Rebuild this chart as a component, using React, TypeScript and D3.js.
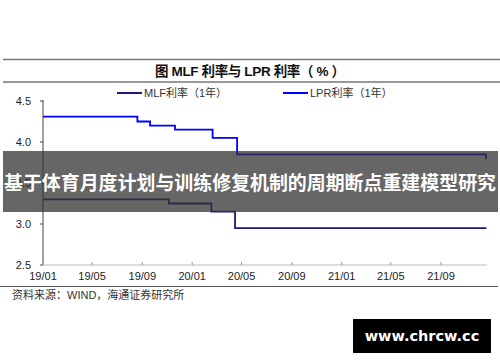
import * as d3 from 'd3';
import React, { useEffect, useRef } from 'react';

// step series (dates where the rate changed)
const lprDates = ['2019-01-01', '2019-08-20', '2019-09-20', '2019-11-20', '2020-02-20', '2020-04-20', '2021-12-20', '2021-12-21'];
const lprValues = [4.31, 4.25, 4.20, 4.15, 4.05, 3.85, 3.80, 3.80];
const mlfDates = ['2019-01-01', '2019-11-05', '2020-02-17', '2020-04-15', '2021-12-21'];
const mlfValues = [3.30, 3.25, 3.15, 2.95, 2.95];
const xTickLabels = ['19/01', '19/05', '19/09', '20/01', '20/05', '20/09', '21/01', '21/05', '21/09'];
const yTicks = [2.5, 3.0, 3.5, 4.0, 4.5];
const seriesNames = ['MLF利率（1年）', 'LPR利率（1年）'];

const W = 500, H = 362;
const FONT = '"Liberation Sans", Arial, "Noto Sans CJK SC", sans-serif';

export default function App() {
    const svgRef = useRef(null);

    useEffect(() => {
        const svg = d3.select(svgRef.current);
        svg.selectAll('*').remove();
        const parse = d3.timeParse('%Y-%m-%d');
        const parseTick = d3.timeParse('%y/%m');

        const x = d3.scaleTime()
            .domain([parse('2019-01-01'), parse('2021-09-01')])
            .range([43, 441]);
        const y = d3.scaleLinear().domain([2.5, 4.5]).range([265, 101]);

        svg.append('rect').attr('width', W).attr('height', H).attr('fill', '#fff');

        // title rules + title
        svg.append('line').attr('x1', 3).attr('x2', 500).attr('y1', 59.5).attr('y2', 59.5)
            .attr('stroke', '#777').attr('stroke-width', 1.5);
        svg.append('line').attr('x1', 3).attr('x2', 500).attr('y1', 82).attr('y2', 82)
            .attr('stroke', '#777').attr('stroke-width', 1.5);
        svg.append('text').attr('x', 250).attr('y', 76).attr('text-anchor', 'middle')
            .attr('font-family', FONT).attr('font-size', 13.5).attr('font-weight', 'bold').attr('fill', '#111')
            .attr('textLength', 190).attr('lengthAdjust', 'spacing')
            .text('图  MLF 利率与 LPR 利率（ % ）');

        // legend
        const legendX = [117, 283];
        const legendColors = ['#1a1a7a', '#0000ff'];
        seriesNames.forEach((name, i) => {
            svg.append('line').attr('x1', legendX[i]).attr('x2', legendX[i] + 25)
                .attr('y1', 93).attr('y2', 93).attr('stroke', legendColors[i]).attr('stroke-width', 2);
            svg.append('text').attr('x', legendX[i] + 27).attr('y', 97)
                .attr('font-family', FONT).attr('font-size', 11).attr('fill', '#333').text(name);
        });

        // y axis
        svg.append('line').attr('x1', 43).attr('x2', 43).attr('y1', 100).attr('y2', 265)
            .attr('stroke', '#444').attr('stroke-width', 1);
        yTicks.forEach((t) => {
            svg.append('line').attr('x1', 40).attr('x2', 43).attr('y1', y(t)).attr('y2', y(t))
                .attr('stroke', '#444');
            svg.append('text').attr('x', 31).attr('y', y(t) + 4).attr('text-anchor', 'end')
                .attr('font-family', FONT).attr('font-size', 11).attr('fill', '#222').text(t.toFixed(1));
        });

        // x axis
        svg.append('line').attr('x1', 43).attr('x2', 487).attr('y1', 265).attr('y2', 265)
            .attr('stroke', '#bbb').attr('stroke-width', 1);
        xTickLabels.forEach((lbl) => {
            const px = x(parseTick(lbl));
            svg.append('line').attr('x1', px).attr('x2', px).attr('y1', 262).attr('y2', 265).attr('stroke', '#999');
            svg.append('text').attr('x', px).attr('y', 280).attr('text-anchor', 'middle')
                .attr('font-family', FONT).attr('font-size', 11).attr('fill', '#222').text(lbl);
        });

        // series
        const line = d3.line()
            .x((d) => x(d[0]))
            .y((d) => y(d[1]))
            .curve(d3.curveStepAfter);
        const lpr = lprDates.map((d, i) => [parse(d), lprValues[i]]);
        const mlf = mlfDates.map((d, i) => [parse(d), mlfValues[i]]);
        svg.append('path').attr('d', line(lpr)).attr('fill', 'none')
            .attr('stroke', '#0000ff').attr('stroke-width', 1.8);
        svg.append('path').attr('d', line(mlf)).attr('fill', 'none')
            .attr('stroke', '#1a1a7a').attr('stroke-width', 1.8);

        // bottom rule + source
        svg.append('line').attr('x1', 0).attr('x2', 498).attr('y1', 286.5).attr('y2', 286.5)
            .attr('stroke', '#555').attr('stroke-width', 1.2);
        svg.append('text').attr('x', 12).attr('y', 299)
            .attr('font-family', FONT).attr('font-size', 11).attr('fill', '#333')
            .text('资料来源：WIND，海通证券研究所');

        // banner overlay
        svg.append('rect').attr('x', 3).attr('y', 151).attr('width', 495).attr('height', 61)
            .attr('fill', 'rgba(51,51,51,0.75)');
        svg.append('text').attr('x', 250).attr('y', 190).attr('text-anchor', 'middle')
            .attr('font-family', '"Noto Sans CJK SC", sans-serif').attr('font-size', 19)
            .attr('font-weight', 'bold').attr('fill', '#fff')
            .attr('textLength', 492).attr('lengthAdjust', 'spacingAndGlyphs')
            .text('基于体育月度计划与训练修复机制的周期断点重建模型研究');

        // watermark
        svg.append('rect').attr('x', 353).attr('y', 319).attr('width', 138).attr('height', 34).attr('fill', '#000');
        svg.append('text').attr('x', 422).attr('y', 341).attr('text-anchor', 'middle')
            .attr('font-family', '"DejaVu Sans", sans-serif').attr('font-size', 14.5).attr('font-weight', 'bold')
            .attr('fill', '#fff').text('www.chrcw.cc');
    }, []);

    return (
        <svg ref={svgRef} width={W} height={H} style={{ position: 'absolute', left: 0, top: 0 }} />
    );
}
